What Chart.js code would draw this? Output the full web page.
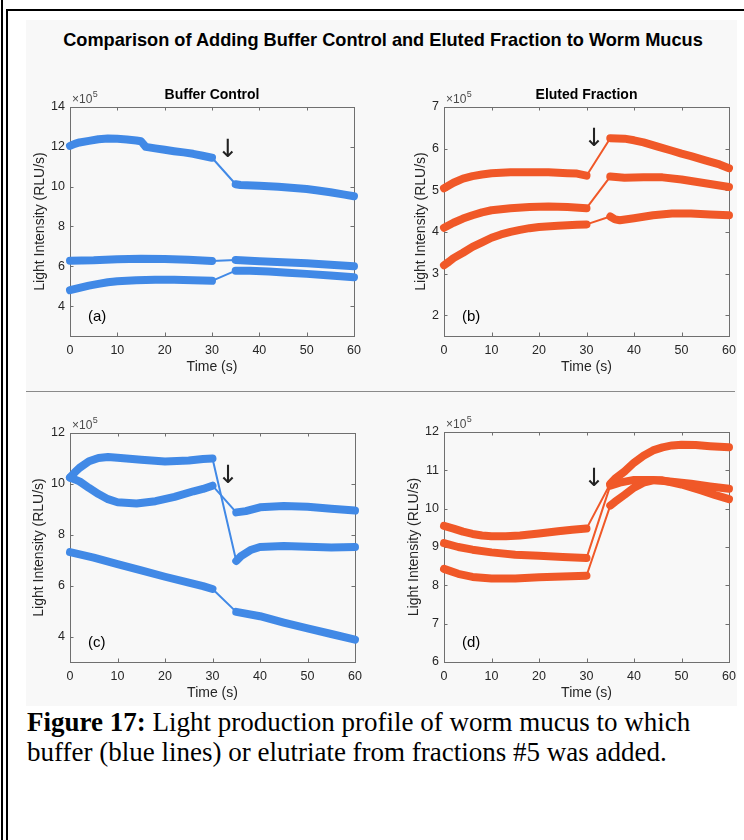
<!DOCTYPE html>
<html>
<head>
<meta charset="utf-8">
<title>Worm mucus light production</title>
<script src="https://cdn.jsdelivr.net/npm/chart.js@4.4.0/dist/chart.umd.min.js"></script>
<style>
    body { margin: 0; width: 744px; height: 840px; background: #fff; position: relative; overflow: hidden; font-family: "Liberation Sans", Arial, sans-serif; }
    .rule { position: absolute; background: #000; }
    #figure-bg { position: absolute; left: 26px; top: 20px; width: 711px; height: 686px; background: #f8f8f8; }
    #divider { position: absolute; left: 26px; top: 391px; width: 709px; height: 1px; background: #8a8a8a; }
    #main-title { position: absolute; left: 0; width: 766px; top: 29px; text-align: center; font-weight: bold; font-size: 18.2px; line-height: 22px; color: #000; }
    canvas { position: absolute; }
    #caption { position: absolute; left: 27px; top: 707px; font-family: "Liberation Serif", "Times New Roman", serif; font-size: 27px; line-height: 30px; color: #000; white-space: nowrap; }
</style>
</head>
<body>
<div class="rule" style="left:1px; top:0; width:1.5px; height:840px;"></div>
<div class="rule" style="left:6px; top:9px; width:1.5px; height:831px;"></div>
<div class="rule" style="left:6px; top:9px; width:738px; height:1.5px;"></div>
<div id="figure-bg"></div>
<div id="divider"></div>
<div id="main-title">Comparison of Adding Buffer Control and Eluted Fraction to Worm Mucus</div>

<canvas id="chartA" width="360" height="304" style="left:10px; top:77px;"></canvas>
<canvas id="chartB" width="353" height="304" style="left:384px; top:77px;"></canvas>
<canvas id="chartC" width="361" height="304" style="left:10px; top:403px;"></canvas>
<canvas id="chartD" width="353" height="305" style="left:384px; top:402px;"></canvas>

<div id="caption"><b>Figure 17:</b> Light production profile of worm mucus to which<br>buffer (blue lines) or elutriate from fractions #5 was added.</div>

<script>
// Worm mucus light profiles, values in units of 10^5 RLU/s

const xTicks = [0, 10, 20, 30, 40, 50, 60];
const gapStart = 30;   // reading paused while the sample was added
const gapEnd = 35;

// (a) buffer control, top
const aTime1 = [0, 1, 2, 4, 6, 8, 10, 12, 14, 15, 16, 18, 20, 22, 24, 26, 28, 30, 35, 36, 40, 44, 48, 50, 52, 55, 58, 60];
const aLight1 = [12.05, 12.15, 12.22, 12.3, 12.38, 12.42, 12.4, 12.37, 12.32, 12.28, 12.0, 11.92, 11.85, 11.78, 11.72, 11.65, 11.55, 11.45, 10.12, 10.08, 10.05, 10.0, 9.92, 9.88, 9.82, 9.72, 9.6, 9.52];
const aTime2 = [0, 5, 10, 15, 20, 25, 30, 35, 40, 45, 50, 55, 60];
const aLight2 = [6.28, 6.3, 6.35, 6.38, 6.37, 6.33, 6.27, 6.32, 6.25, 6.2, 6.15, 6.08, 6.0];
const aTime3 = [0, 2, 4, 6, 8, 10, 14, 18, 22, 26, 30, 35, 38, 42, 46, 50, 55, 60];
const aLight3 = [4.8, 4.92, 5.03, 5.12, 5.2, 5.25, 5.3, 5.33, 5.33, 5.3, 5.27, 5.78, 5.78, 5.74, 5.68, 5.62, 5.54, 5.45];
const aYTicks = [4, 6, 8, 10, 12, 14];

// (b) eluted fraction, top
const bTime1 = [0, 2, 4, 6, 8, 10, 14, 18, 22, 26, 28, 30, 35, 38, 40, 42, 45, 48, 50, 52, 55, 58, 60];
const bLight1 = [5.05, 5.18, 5.28, 5.34, 5.38, 5.41, 5.43, 5.43, 5.43, 5.41, 5.4, 5.35, 6.25, 6.24, 6.2, 6.15, 6.05, 5.95, 5.88, 5.82, 5.72, 5.62, 5.53];
const bTime2 = [0, 2, 4, 6, 8, 10, 14, 18, 22, 26, 30, 35, 38, 42, 46, 50, 55, 60];
const bLight2 = [4.1, 4.22, 4.32, 4.4, 4.47, 4.52, 4.57, 4.6, 4.61, 4.6, 4.57, 5.33, 5.3, 5.31, 5.31, 5.26, 5.17, 5.08];
const bTime3 = [0, 1, 2, 4, 6, 8, 10, 12, 14, 16, 18, 20, 24, 28, 30, 35, 36, 37, 40, 44, 48, 52, 56, 60];
const bLight3 = [3.2, 3.28, 3.37, 3.5, 3.64, 3.75, 3.86, 3.94, 4.0, 4.05, 4.09, 4.12, 4.15, 4.17, 4.18, 4.37, 4.3, 4.28, 4.33, 4.4, 4.44, 4.44, 4.42, 4.4];
const bYTicks = [2, 3, 4, 5, 6, 7];

// (c) buffer control, bottom
const cTime1 = [0, 1, 2, 4, 6, 8, 10, 15, 20, 25, 28, 30, 35, 36, 38, 40, 45, 50, 55, 60];
const cLight1 = [10.25, 10.45, 10.63, 10.89, 11.02, 11.06, 11.03, 10.95, 10.88, 10.92, 10.98, 11.0, 6.97, 7.16, 7.4, 7.52, 7.56, 7.53, 7.5, 7.52];
const cTime2 = [0, 2, 4, 6, 8, 10, 14, 18, 22, 26, 28, 30, 35, 37, 40, 45, 50, 55, 60];
const cLight2 = [10.25, 10.1, 9.84, 9.6, 9.4, 9.28, 9.23, 9.32, 9.49, 9.71, 9.8, 9.93, 8.88, 8.93, 9.08, 9.13, 9.1, 9.02, 8.95];
const cTime3 = [0, 5, 10, 15, 20, 25, 28, 30, 35, 40, 45, 50, 55, 60];
const cLight3 = [7.32, 7.1, 6.85, 6.6, 6.35, 6.12, 5.98, 5.87, 4.97, 4.8, 4.55, 4.32, 4.1, 3.88];
const cYTicks = [4, 6, 8, 10, 12];

// (d) eluted fraction, bottom
const dTime1 = [0, 2, 4, 6, 8, 10, 13, 16, 20, 24, 27, 30, 35, 36, 38, 40, 42, 44, 46, 48, 50, 53, 56, 60];
const dLight1 = [9.55, 9.48, 9.4, 9.34, 9.3, 9.28, 9.28, 9.3, 9.35, 9.41, 9.45, 9.48, 10.65, 10.78, 10.97, 11.2, 11.38, 11.52, 11.6, 11.65, 11.67, 11.66, 11.63, 11.6];
const dTime2 = [0, 3, 6, 10, 15, 20, 25, 30, 35, 37, 40, 44, 48, 52, 56, 60];
const dLight2 = [9.1, 9.0, 8.93, 8.86, 8.8, 8.77, 8.74, 8.71, 10.6, 10.68, 10.75, 10.75, 10.7, 10.65, 10.58, 10.52];
const dTime3 = [0, 3, 6, 10, 15, 20, 25, 30, 35, 36, 38, 40, 42, 44, 46, 50, 54, 57, 60];
const dLight3 = [8.43, 8.3, 8.22, 8.18, 8.18, 8.21, 8.23, 8.25, 10.08, 10.18, 10.36, 10.55, 10.68, 10.74, 10.74, 10.63, 10.48, 10.36, 10.25];
const dYTicks = [6, 7, 8, 9, 10, 11, 12];

// where the "sample added" arrow sits in each panel
const arrowTime = [33.4, 31.6, 33.3, 31.6];
const arrowLight = [11.8, 6.23, 10.3, 10.77];

const BLUE = '#4189E6';
const ORANGE = '#F05828';
const FONT = '"Liberation Sans", Arial, sans-serif';
const THICK = 8;
const THIN = 2;

Chart.defaults.font.family = FONT;
Chart.defaults.animation = false;

// MATLAB-style box, inward ticks and labels
const figPlugin = {
    id: 'fig',
    beforeDatasetsDraw(chart) {
        const { ctx, chartArea: ca, scales: { x, y } } = chart;
        const tl = 3.5;
        ctx.save();
        ctx.strokeStyle = '#6f6f6f';
        ctx.lineWidth = 1;
        ctx.beginPath();
        x.ticks.forEach(t => {
            const px = Math.round(x.getPixelForValue(t.value)) + 0.5;
            ctx.moveTo(px, ca.bottom); ctx.lineTo(px, ca.bottom - tl);
            ctx.moveTo(px, ca.top); ctx.lineTo(px, ca.top + tl);
        });
        y.ticks.forEach(t => {
            const py = Math.round(y.getPixelForValue(t.value)) + 0.5;
            ctx.moveTo(ca.left, py); ctx.lineTo(ca.left + tl, py);
            ctx.moveTo(ca.right, py); ctx.lineTo(ca.right - tl, py);
        });
        ctx.stroke();
        ctx.strokeRect(Math.round(ca.left) + 0.5, Math.round(ca.top) + 0.5, Math.round(ca.width), Math.round(ca.height));
        ctx.restore();
    },
    afterDraw(chart, args, o) {
        const { ctx, chartArea: ca, scales: { x, y } } = chart;
        const cx = (ca.left + ca.right) / 2;
        const cy = (ca.top + ca.bottom) / 2;
        ctx.save();
        ctx.fillStyle = '#262626';
        ctx.textAlign = 'center';
        ctx.textBaseline = 'middle';
        ctx.font = '14px ' + FONT;
        ctx.fillText('Time (s)', cx, ca.bottom + 31);

        ctx.save();
        ctx.translate(ca.left - o.yTitleGap, cy);
        ctx.rotate(-Math.PI / 2);
        ctx.fillText('Light Intensity (RLU/s)', 0, 0);
        ctx.restore();

        if (o.title) {
            ctx.fillStyle = '#000';
            ctx.font = 'bold 14px ' + FONT;
            ctx.fillText(o.title, cx, ca.top - 12);
        }

        // exponent label
        ctx.fillStyle = '#4a4a4a';
        ctx.textAlign = 'left';
        ctx.textBaseline = 'alphabetic';
        ctx.font = '12px ' + FONT;
        ctx.fillText('\u00d710', ca.left + 2, ca.top - 4);
        const w = ctx.measureText('\u00d710').width;
        ctx.font = '9px ' + FONT;
        ctx.fillText('5', ca.left + 2.5 + w, ca.top - 10);

        // panel letter
        ctx.fillStyle = '#000';
        ctx.textBaseline = 'middle';
        ctx.font = '15px ' + FONT;
        ctx.fillText(o.letter, ca.left + 18, ca.bottom - 19);

        // arrow where the sample was added
        ctx.fillStyle = '#222';
        ctx.textAlign = 'center';
        ctx.font = '25px "DejaVu Sans", sans-serif';
        ctx.fillText('\u2193', x.getPixelForValue(arrowTime[o.idx]), y.getPixelForValue(arrowLight[o.idx]));
        ctx.restore();
    }
};

function makePanel(id, series, color, yTicks, yMin, yMax, extra) {
    const datasets = series.map(([t, v]) => ({
        data: t.map((tx, i) => ({ x: tx, y: v[i] })),
        borderColor: color,
        backgroundColor: color,
        borderWidth: THICK,
        borderCapStyle: 'round',
        borderJoinStyle: 'round',
        pointRadius: 0,
        tension: 0,
        clip: 6,
        segment: {
            borderWidth: c => (c.p0.parsed.x === gapStart && c.p1.parsed.x === gapEnd) ? THIN : THICK
        }
    }));

    return new Chart(document.getElementById(id), {
        type: 'line',
        data: { datasets },
        options: {
            responsive: false,
            layout: { padding: { top: 30, right: extra.rightPad, left: 0, bottom: 0 } },
            plugins: {
                legend: { display: false },
                tooltip: { enabled: false },
                fig: extra
            },
            scales: {
                x: {
                    type: 'linear',
                    min: 0,
                    max: 60,
                    grid: { display: false, drawTicks: false },
                    border: { display: false },
                    ticks: { padding: 7, color: '#262626', font: { size: 12.5 }, callback: v => String(v) },
                    afterBuildTicks: s => { s.ticks = xTicks.map(v => ({ value: v })); },
                    afterFit: s => { s.height = 45; s.paddingLeft = 0; s.paddingRight = 0; }
                },
                y: {
                    type: 'linear',
                    min: yMin,
                    max: yMax,
                    grid: { display: false, drawTicks: false },
                    border: { display: false },
                    ticks: { padding: 5, color: '#262626', font: { size: 12.5 }, callback: v => String(v) },
                    afterBuildTicks: s => { s.ticks = yTicks.map(v => ({ value: v })); },
                    afterFit: s => { s.width = 60; }
                }
            }
        },
        plugins: [figPlugin]
    });
}

makePanel('chartA', [[aTime1, aLight1], [aTime2, aLight2], [aTime3, aLight3]], BLUE, aYTicks, 2.5, 14,
    { idx: 0, letter: '(a)', title: 'Buffer Control', yTitleGap: 30, rightPad: 16 });
makePanel('chartB', [[bTime1, bLight1], [bTime2, bLight2], [bTime3, bLight3]], ORANGE, bYTicks, 1.5, 7,
    { idx: 1, letter: '(b)', title: 'Eluted Fraction', yTitleGap: 23, rightPad: 8 });
makePanel('chartC', [[cTime1, cLight1], [cTime2, cLight2], [cTime3, cLight3]], BLUE, cYTicks, 3, 12,
    { idx: 2, letter: '(c)', title: '', yTitleGap: 31, rightPad: 16 });
makePanel('chartD', [[dTime1, dLight1], [dTime2, dLight2], [dTime3, dLight3]], ORANGE, dYTicks, 6, 12,
    { idx: 3, letter: '(d)', title: '', yTitleGap: 30, rightPad: 8 });
</script>
</body>
</html>
